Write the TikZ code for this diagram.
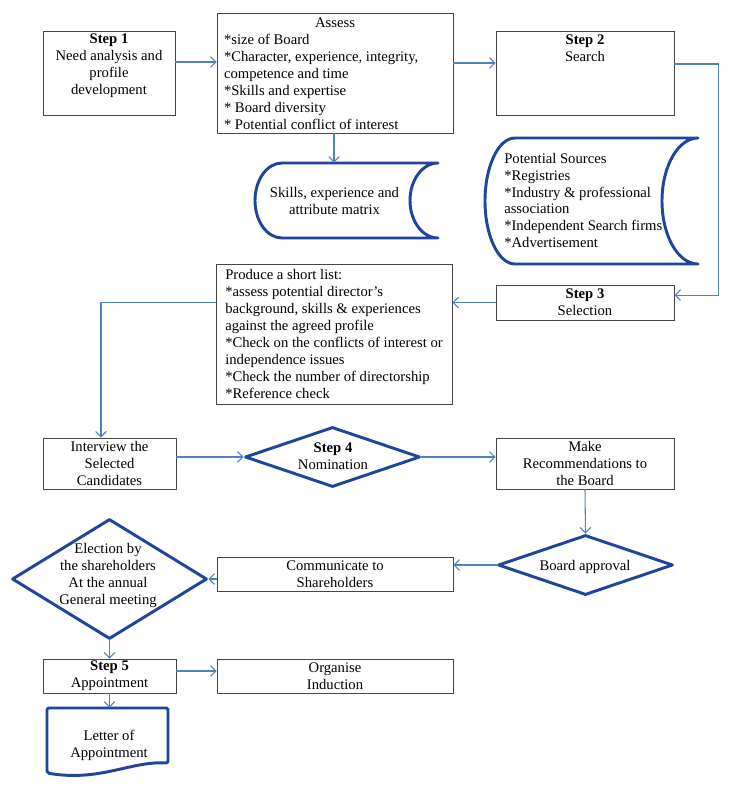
\documentclass[tikz,border=0pt]{standalone}
\usepackage{fontspec}
\setmainfont{Liberation Serif}
\usetikzlibrary{arrows.meta,shapes.geometric,calc}
\definecolor{connblue}{RGB}{79,129,189}
\definecolor{shapeblue}{RGB}{31,69,156}
\definecolor{boxline}{RGB}{70,70,70}
\begin{document}
\begin{tikzpicture}[x=0.75pt,y=-0.75pt,
  txt/.style={font=\fontsize{11}{12.75}\selectfont, align=center, inner sep=0pt},
  box/.style={draw=boxline, line width=0.7pt, inner sep=0pt, txt},
  conn/.style={draw=connblue, line width=0.8pt, -{Straight Barb[length=4pt,width=8pt,line width=0.8pt]}},
  heavy/.style={draw=shapeblue, line width=2.2pt, line join=round},
  dia/.style={diamond, heavy, inner sep=0pt},
  area/.style={inner sep=0pt}
]
\fill[white] (0,0) rectangle (743,789);
\useasboundingbox (0,0) rectangle (743,789);

% Step 1
\node[box, minimum width=99pt, minimum height=63pt] (step1) at (109,73) {};
\node[txt] (step1t) at (109,66) {\textbf{Step 1}\\Need analysis and\\profile\\development};

% Assess
\node[box, minimum width=177pt, minimum height=90pt] (assess) at (335,73) {};
\node[txt, align=left] (assesst) at (335,74) {\makebox[166.5pt]{Assess}\\*size of Board\\*Character, experience, integrity,\\competence and time\\*Skills and expertise\\* Board diversity\\* Potential conflict of interest};

% Step 2
\node[box, minimum width=133.5pt, minimum height=63pt] (step2) at (585,73) {};
\node[txt] (step2t) at (585,48.5) {\textbf{Step 2}\\Search};

% Skills matrix (stored data)
\node[area, minimum width=137.25pt, minimum height=56.25pt] (skills) at (346.5,200.5) {};
\draw[heavy] (282,163) -- (438,163)
  arc[start angle=90, end angle=270, x radius=21pt, y radius=28.125pt]
  -- (282,238)
  arc[start angle=270, end angle=90, x radius=20.25pt, y radius=28.125pt] -- cycle;
\node[txt] (skillst) at (334.5,201) {Skills, experience and\\attribute matrix};

% Potential sources (stored data)
\node[area, minimum width=159.75pt, minimum height=94.5pt] (sources) at (591.5,201) {};
\draw[heavy] (515,138) -- (698,138)
  arc[start angle=90, end angle=270, x radius=27pt, y radius=47.25pt]
  -- (515,264)
  arc[start angle=270, end angle=90, x radius=22.5pt, y radius=47.25pt] -- cycle;
\node[txt, font=\fontsize{11}{12.5}\selectfont, align=left, anchor=west] (sourcest) at (504,200.5) {Potential Sources\\*Registries\\*Industry \& professional\\association\\*Independent Search firms\\*Advertisement};

% Step 3
\node[box, minimum width=133.5pt, minimum height=26.25pt] (step3) at (585,302.5) {\textbf{Step 3}\\Selection};

% Produce a short list
\node[box, minimum width=177pt, minimum height=105pt] (produce) at (334,334) {};
\node[txt, align=left, anchor=west] (producet) at (225,334) {Produce a short list:\\*assess potential director’s\\background, skills \& experiences\\against the agreed profile\\*Check on the conflicts of interest or\\independence issues\\*Check the number of directorship\\*Reference check};

% Interview
\node[box, minimum width=99.75pt, minimum height=38.25pt] (interview) at (109.5,463.5) {Interview the\\Selected\\Candidates};

% Step 4 Nomination
\node[dia, minimum width=131.25pt, minimum height=45pt] (nom) at (332.5,457) {};
\node[txt] (nomt) at (333,456) {\textbf{Step 4}\\Nomination};

% Make recommendations
\node[box, minimum width=133.5pt, minimum height=38.25pt] (make) at (585,463.5) {Make\\Recommendations to\\the Board};

% Board approval
\node[dia, minimum width=131.25pt, minimum height=45pt] (board) at (585.5,565) {};
\node[txt] (boardt) at (585,566.5) {Board approval};

% Communicate
\node[box, minimum width=177pt, minimum height=25.5pt] (comm) at (335,574) {Communicate to\\Shareholders};

% Election
\node[dia, minimum width=146.25pt, minimum height=90pt] (elect) at (109.5,579) {};
\node[txt] (electt) at (108,575) {Election by\\the shareholders\\At the annual\\General meeting};

% Step 5
\node[box, minimum width=99.75pt, minimum height=25.5pt] (step5) at (109.5,676) {\textbf{Step 5}\\Appointment};

% Organise induction
\node[box, minimum width=177pt, minimum height=25.5pt] (org) at (335,676) {Organise\\Induction};

% Letter of appointment (document)
\node[area, minimum width=90.75pt, minimum height=50.25pt] (letter) at (107.5,741.5) {};
\draw[heavy, rounded corners=1.5pt] (47,773) -- (47,708) -- (168,708) -- (168,763)
  .. controls (130,761) and (100,782) .. (47,773) -- cycle;
\node[txt] (lettert) at (109,745) {Letter of\\Appointment};

% Connectors
\draw[conn] ([yshift=8.25pt]step1.east) -- ([yshift=8.25pt]step1.east -| assess.west);
\draw[conn] ([yshift=7.5pt]assess.east) -- ([yshift=7.5pt]assess.east -| step2.west);
\draw[conn] ([xshift=-0.75pt]assess.south) -- ([xshift=-0.75pt]assess.south |- skills.north);
\draw[conn] ([yshift=6.75pt]step2.east) -- ++(44,0) |- ([yshift=5.6pt]step3.east);
\draw[conn] (step3.west) -- (step3.west -| produce.east);
\draw[conn] (produce.west |- step3.west) -| ([xshift=-6.4pt]interview.north);
\draw[conn] (interview.east |- nom.west) -- (nom.west);
\draw[conn] (nom.east) -- (nom.east -| make.west);
\draw[conn] (make.south) -- (board.north);
\draw[conn] (board.west) -- (board.west -| comm.east);
\draw[conn] (comm.west |- elect.east) -- (elect.east);
\draw[conn] (elect.south) -- (elect.south |- step5.north);
\draw[conn] ([yshift=3.75pt]step5.east) -- ([yshift=3.75pt]step5.east -| org.west);
\draw[conn] (step5.south) -- (step5.south |- letter.north);
\end{tikzpicture}
\end{document}
